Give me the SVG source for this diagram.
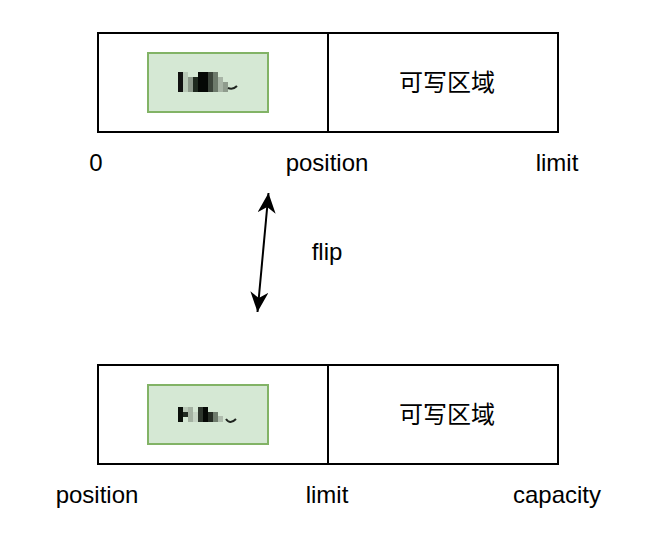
<svg xmlns="http://www.w3.org/2000/svg" width="647" height="549" viewBox="0 0 647 549">
<defs>
<style>
.box{fill:#ffffff;stroke:#000000;stroke-width:2}
.div{stroke:#000000;stroke-width:2}
.green{fill:#d5e8d4;stroke:#82b366;stroke-width:2}
.lbl{font-family:"Liberation Sans",Arial,sans-serif;font-size:24px;fill:#000000}
.cjk{font-family:"Liberation Sans","Noto Sans CJK SC",sans-serif;font-size:24px;fill:#000000}
.conn{stroke:#000000;stroke-width:2;fill:none}
</style>
<marker id="arr" viewBox="0 0 20 18" refX="20" refY="9" markerWidth="20" markerHeight="18" markerUnits="userSpaceOnUse" orient="auto-start-reverse">
<path d="M0,0 L20,9 L0,18 L6,9 Z" fill="#000000"/>
</marker>
</defs>
<rect width="647" height="549" fill="#ffffff"/>

<g id="buffer-before">
<rect class="box" x="98" y="33" width="460" height="99"/>
<line class="div" x1="328" y1="33" x2="328" y2="132"/>
<text class="cjk" x="447" y="91" text-anchor="middle">可写区域</text>
</g>
<g id="data-before">
<rect class="green" x="148" y="53" width="120" height="59"/>
<g>
<rect x="178" y="72" width="5" height="20" fill="#111111"/>
<rect x="183" y="72" width="5" height="20" fill="#b9c9b7"/>
<rect x="188" y="77" width="5" height="15" fill="#8d998b"/>
<rect x="193" y="77" width="5" height="15" fill="#1f2a1f"/>
<rect x="198" y="72" width="10" height="20" fill="#050805"/>
<rect x="208" y="72" width="5" height="20" fill="#3b443a"/>
<rect x="213" y="72" width="5" height="20" fill="#6d7a6b"/>
<rect x="218" y="77" width="5" height="15" fill="#a8b5a6"/>
<rect x="223" y="82" width="5" height="10" fill="#8f9c8d"/>
<path d="M228,88 Q233,90 237,86" stroke="#1f241f" stroke-width="2" fill="none"/>
</g>
</g>

<g id="labels-before">
<text class="lbl" x="96" y="171" text-anchor="middle">0</text>
<text class="lbl" x="327" y="171" text-anchor="middle">position</text>
<text class="lbl" x="557" y="171" text-anchor="middle">limit</text>
</g>

<g id="connectors">
<line class="conn" x1="268.5" y1="193" x2="257.5" y2="312" marker-start="url(#arr)" marker-end="url(#arr)"/>
</g>
<g id="flip-label">
<text class="lbl" x="327" y="260" text-anchor="middle">flip</text>
</g>

<g id="buffer-after">
<rect class="box" x="98" y="365" width="460" height="99"/>
<line class="div" x1="328" y1="365" x2="328" y2="464"/>
<text class="cjk" x="447" y="423" text-anchor="middle">可写区域</text>
</g>
<g id="data-after">
<rect class="green" x="148" y="385" width="120" height="59"/>
<g>
<rect x="178" y="407" width="5" height="15" fill="#0a0f0a"/>
<rect x="183" y="412" width="5" height="5" fill="#222a22"/>
<rect x="183" y="407" width="5" height="5" fill="#b7c6b5"/>
<rect x="188" y="407" width="5" height="15" fill="#a4b2a2"/>
<rect x="193" y="412" width="5" height="10" fill="#c6d4c4"/>
<rect x="198" y="407" width="5" height="15" fill="#2e362d"/>
<rect x="203" y="407" width="5" height="15" fill="#050805"/>
<rect x="208" y="412" width="5" height="10" fill="#262d25"/>
<rect x="213" y="412" width="5" height="10" fill="#6e7b6c"/>
<rect x="218" y="416" width="5" height="6" fill="#b0bdae"/>
<path d="M226,419 Q230,425 236,419" stroke="#1f241f" stroke-width="2" fill="none"/>
</g>
</g>

<g id="labels-after">
<text class="lbl" x="97" y="503" text-anchor="middle">position</text>
<text class="lbl" x="327" y="503" text-anchor="middle">limit</text>
<text class="lbl" x="557" y="503" text-anchor="middle">capacity</text>
</g>
</svg>
